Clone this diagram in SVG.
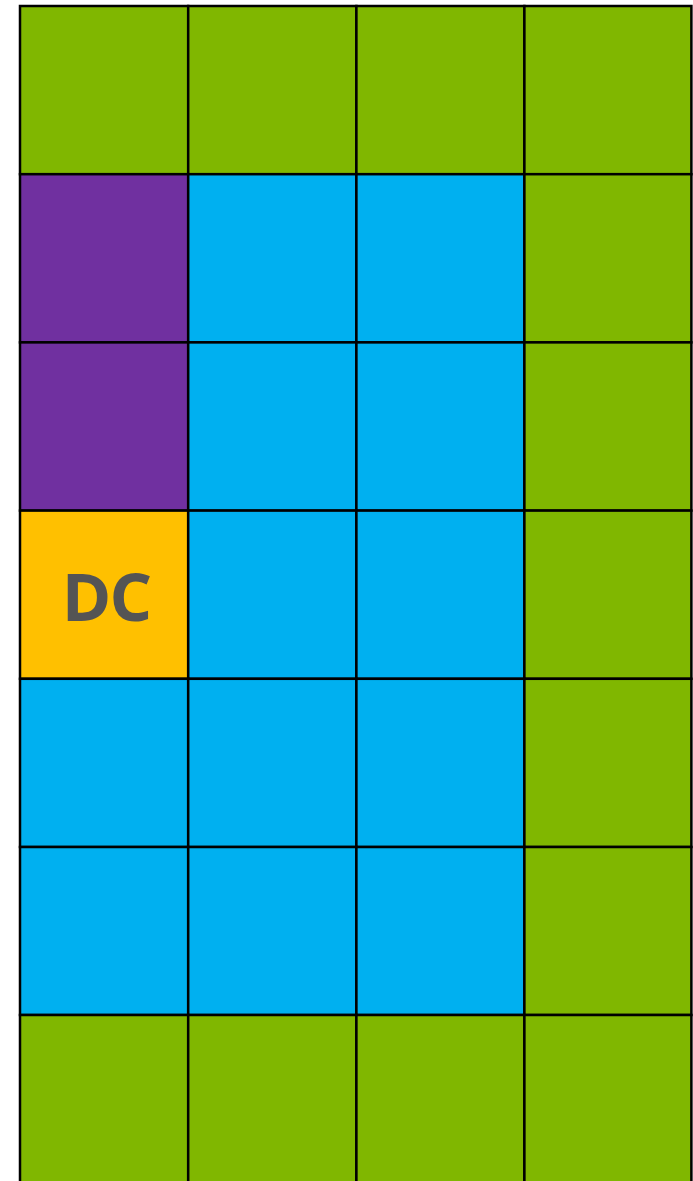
<svg xmlns="http://www.w3.org/2000/svg" width="693" height="1181" viewBox="0 0 693 1181">
<style>
.c{stroke:#000;stroke-width:2.5}
.g{fill:#80b700}
.p{fill:#7030a0}
.b{fill:#00b0f0}
.y{fill:#ffc000}
.t{font-family:"Open Sans","Liberation Sans",sans-serif;font-weight:bold;font-size:67px;fill:#545454;text-anchor:middle;letter-spacing:-2px}
</style>
<rect width="693" height="1181" fill="#fff"/>
<g id="row1">
<rect id="r1c1" class="c g" x="20" y="6" width="168.2" height="168.2"/>
<rect id="r1c2" class="c g" x="188.2" y="6" width="168.2" height="168.2"/>
<rect id="r1c3" class="c g" x="356.4" y="6" width="168" height="168.2"/>
<rect id="r1c4" class="c g" x="524.4" y="6" width="167" height="168.2"/>
</g>
<g id="row2">
<rect id="r2c1" class="c p" x="20" y="174.2" width="168.2" height="168.2"/>
<rect id="r2c2" class="c b" x="188.2" y="174.2" width="168.2" height="168.2"/>
<rect id="r2c3" class="c b" x="356.4" y="174.2" width="168" height="168.2"/>
<rect id="r2c4" class="c g" x="524.4" y="174.2" width="167" height="168.2"/>
</g>
<g id="row3">
<rect id="r3c1" class="c p" x="20" y="342.4" width="168.2" height="168.2"/>
<rect id="r3c2" class="c b" x="188.2" y="342.4" width="168.2" height="168.2"/>
<rect id="r3c3" class="c b" x="356.4" y="342.4" width="168" height="168.2"/>
<rect id="r3c4" class="c g" x="524.4" y="342.4" width="167" height="168.2"/>
</g>
<g id="row4">
<g id="dc">
<rect class="c y" x="20" y="510.6" width="168.2" height="168.2"/>
<text class="t" x="106" y="621">DC</text>
</g>
<rect id="r4c2" class="c b" x="188.2" y="510.6" width="168.2" height="168.2"/>
<rect id="r4c3" class="c b" x="356.4" y="510.6" width="168" height="168.2"/>
<rect id="r4c4" class="c g" x="524.4" y="510.6" width="167" height="168.2"/>
</g>
<g id="row5">
<rect id="r5c1" class="c b" x="20" y="678.8" width="168.2" height="168.2"/>
<rect id="r5c2" class="c b" x="188.2" y="678.8" width="168.2" height="168.2"/>
<rect id="r5c3" class="c b" x="356.4" y="678.8" width="168" height="168.2"/>
<rect id="r5c4" class="c g" x="524.4" y="678.8" width="167" height="168.2"/>
</g>
<g id="row6">
<rect id="r6c1" class="c b" x="20" y="847" width="168.2" height="168"/>
<rect id="r6c2" class="c b" x="188.2" y="847" width="168.2" height="168"/>
<rect id="r6c3" class="c b" x="356.4" y="847" width="168" height="168"/>
<rect id="r6c4" class="c g" x="524.4" y="847" width="167" height="168"/>
</g>
<g id="row7">
<rect id="r7c1" class="c g" x="20" y="1015" width="168.2" height="168"/>
<rect id="r7c2" class="c g" x="188.2" y="1015" width="168.2" height="168"/>
<rect id="r7c3" class="c g" x="356.4" y="1015" width="168" height="168"/>
<rect id="r7c4" class="c g" x="524.4" y="1015" width="167" height="168"/>
</g>
<g id="connectors"/>
</svg>
